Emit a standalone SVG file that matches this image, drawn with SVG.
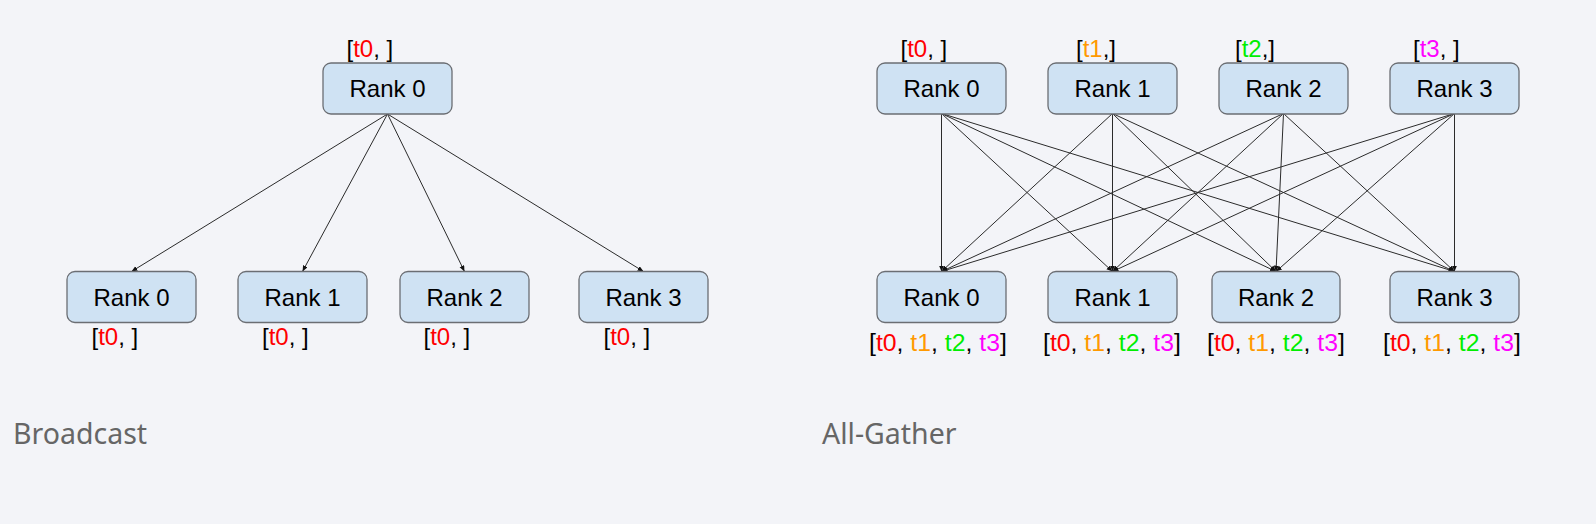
<svg xmlns="http://www.w3.org/2000/svg" width="1596" height="524" viewBox="0 0 1596 524">
<style>
.bg{fill:#f3f4f8}
.box{fill:#cfe2f3;stroke:#6b6e73;stroke-width:1.3}
.rt{font-family:"Liberation Sans",Arial,sans-serif;font-size:24px;fill:#000;text-anchor:middle}
.lb{font-family:"Liberation Sans",Arial,sans-serif;font-size:24px;fill:#000}
.lbw{font-family:"Liberation Sans",Arial,sans-serif;font-size:24.8px;fill:#000}
.ttl{font-family:"Noto Sans","Open Sans",sans-serif;font-size:28.5px;fill:#666}
.c0{fill:#ff0000}.c1{fill:#ff9900}.c2{fill:#00ee00}.c3{fill:#ff00ff}
.ln{stroke:#2b2b2b;stroke-width:1;fill:none;marker-end:url(#ah)}
</style>
<defs>
<marker id="ah" markerUnits="userSpaceOnUse" markerWidth="7" markerHeight="6" refX="6" refY="2.5" orient="auto">
<path d="M0,0 L6,2.5 L0,5 z" fill="#111"/>
</marker>
</defs>
<rect class="bg" x="0" y="0" width="1596" height="524"/>

<g id="connectors">
<line class="ln" x1="387.5" y1="114" x2="131.5" y2="271.5"/>
<line class="ln" x1="387.5" y1="114" x2="302.5" y2="271.5"/>
<line class="ln" x1="387.5" y1="114" x2="464.5" y2="271.5"/>
<line class="ln" x1="387.5" y1="114" x2="643.5" y2="271.5"/>

<line class="ln" x1="941.5" y1="113.5" x2="941.5" y2="271.5"/>
<line class="ln" x1="941.5" y1="113.5" x2="1112.5" y2="271.5"/>
<line class="ln" x1="941.5" y1="113.5" x2="1276" y2="271.5"/>
<line class="ln" x1="941.5" y1="113.5" x2="1454.5" y2="271.5"/>

<line class="ln" x1="1112.5" y1="113.5" x2="941.5" y2="271.5"/>
<line class="ln" x1="1112.5" y1="113.5" x2="1112.5" y2="271.5"/>
<line class="ln" x1="1112.5" y1="113.5" x2="1276" y2="271.5"/>
<line class="ln" x1="1112.5" y1="113.5" x2="1454.5" y2="271.5"/>

<line class="ln" x1="1283.5" y1="113.5" x2="941.5" y2="271.5"/>
<line class="ln" x1="1283.5" y1="113.5" x2="1112.5" y2="271.5"/>
<line class="ln" x1="1283.5" y1="113.5" x2="1276" y2="271.5"/>
<line class="ln" x1="1283.5" y1="113.5" x2="1454.5" y2="271.5"/>

<line class="ln" x1="1454.5" y1="113.5" x2="941.5" y2="271.5"/>
<line class="ln" x1="1454.5" y1="113.5" x2="1112.5" y2="271.5"/>
<line class="ln" x1="1454.5" y1="113.5" x2="1276" y2="271.5"/>
<line class="ln" x1="1454.5" y1="113.5" x2="1454.5" y2="271.5"/>
</g>

<g id="bc-src">
<rect class="box" x="323" y="63" width="129" height="51" rx="8"/>
<text class="rt" x="387.5" y="97">Rank 0</text>
<text class="lb" x="346.5" y="57">[<tspan class="c0">t0</tspan>, ]</text>
</g>
<g id="bc-r0">
<rect class="box" x="67" y="271.5" width="129" height="51" rx="8"/>
<text class="rt" x="131.5" y="305.5">Rank 0</text>
<text class="lb" x="91.5" y="345">[<tspan class="c0">t0</tspan>, ]</text>
</g>
<g id="bc-r1">
<rect class="box" x="238" y="271.5" width="129" height="51" rx="8"/>
<text class="rt" x="302.5" y="305.5">Rank 1</text>
<text class="lb" x="262" y="345">[<tspan class="c0">t0</tspan>, ]</text>
</g>
<g id="bc-r2">
<rect class="box" x="400" y="271.5" width="129" height="51" rx="8"/>
<text class="rt" x="464.5" y="305.5">Rank 2</text>
<text class="lb" x="423.5" y="345">[<tspan class="c0">t0</tspan>, ]</text>
</g>
<g id="bc-r3">
<rect class="box" x="579" y="271.5" width="129" height="51" rx="8"/>
<text class="rt" x="643.5" y="305.5">Rank 3</text>
<text class="lb" x="603.5" y="345">[<tspan class="c0">t0</tspan>, ]</text>
</g>

<g id="ag-src0">
<rect class="box" x="877" y="63" width="129" height="51" rx="8"/>
<text class="rt" x="941.5" y="97">Rank 0</text>
<text class="lb" x="900.5" y="57">[<tspan class="c0">t0</tspan>, ]</text>
</g>
<g id="ag-src1">
<rect class="box" x="1048" y="63" width="129" height="51" rx="8"/>
<text class="rt" x="1112.5" y="97">Rank 1</text>
<text class="lb" x="1076" y="57">[<tspan class="c1">t1</tspan>,]</text>
</g>
<g id="ag-src2">
<rect class="box" x="1219" y="63" width="129" height="51" rx="8"/>
<text class="rt" x="1283.5" y="97">Rank 2</text>
<text class="lb" x="1235" y="57">[<tspan class="c2">t2</tspan>,]</text>
</g>
<g id="ag-src3">
<rect class="box" x="1390" y="63" width="129" height="51" rx="8"/>
<text class="rt" x="1454.5" y="97">Rank 3</text>
<text class="lb" x="1413" y="57">[<tspan class="c3">t3</tspan>, ]</text>
</g>

<g id="ag-r0">
<rect class="box" x="877" y="271.5" width="129" height="51" rx="8"/>
<text class="rt" x="941.5" y="305.5">Rank 0</text>
<text class="lbw" x="869" y="351">[<tspan class="c0">t0</tspan>, <tspan class="c1">t1</tspan>, <tspan class="c2">t2</tspan>, <tspan class="c3">t3</tspan>]</text>
</g>
<g id="ag-r1">
<rect class="box" x="1048" y="271.5" width="129" height="51" rx="8"/>
<text class="rt" x="1112.5" y="305.5">Rank 1</text>
<text class="lbw" x="1043" y="351">[<tspan class="c0">t0</tspan>, <tspan class="c1">t1</tspan>, <tspan class="c2">t2</tspan>, <tspan class="c3">t3</tspan>]</text>
</g>
<g id="ag-r2">
<rect class="box" x="1212" y="271.5" width="128" height="51" rx="8"/>
<text class="rt" x="1276" y="305.5">Rank 2</text>
<text class="lbw" x="1207" y="351">[<tspan class="c0">t0</tspan>, <tspan class="c1">t1</tspan>, <tspan class="c2">t2</tspan>, <tspan class="c3">t3</tspan>]</text>
</g>
<g id="ag-r3">
<rect class="box" x="1390" y="271.5" width="129" height="51" rx="8"/>
<text class="rt" x="1454.5" y="305.5">Rank 3</text>
<text class="lbw" x="1383" y="351">[<tspan class="c0">t0</tspan>, <tspan class="c1">t1</tspan>, <tspan class="c2">t2</tspan>, <tspan class="c3">t3</tspan>]</text>
</g>

<text class="ttl" x="13" y="444">Broadcast</text>
<text class="ttl" x="822" y="444">All-Gather</text>
</svg>
